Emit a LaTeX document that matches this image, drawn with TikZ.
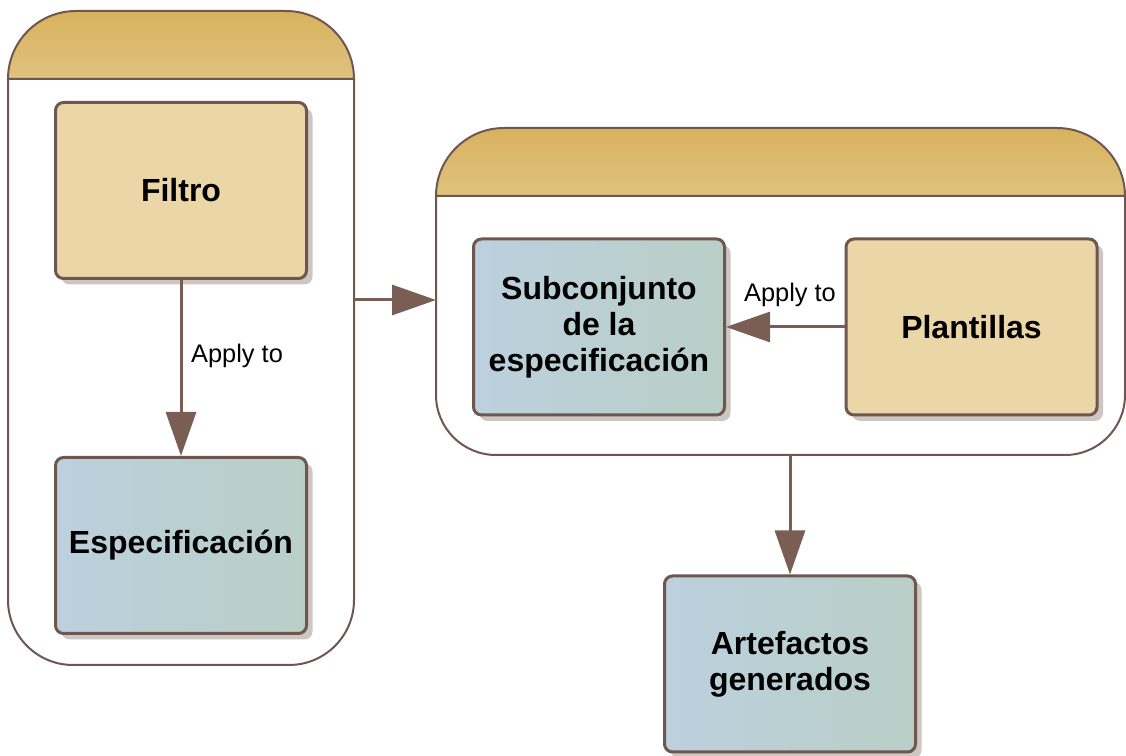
\documentclass[tikz,border=0pt]{standalone}
\usepackage{fontspec}
\setmainfont{Liberation Sans}
\usepackage{tikz}
\usetikzlibrary{arrows.meta, shadows}

\definecolor{marron}{RGB}{110,87,78}
\definecolor{flecha}{RGB}{122,94,84}
\definecolor{cabeza1}{RGB}{216,178,94}
\definecolor{cabeza2}{RGB}{224,194,126}
\definecolor{arena}{RGB}{235,214,167}
\definecolor{azul1}{RGB}{188,208,222}
\definecolor{verde1}{RGB}{185,207,198}
\definecolor{sombra}{RGB}{205,198,195}

\begin{document}
\begin{tikzpicture}[x=0.5pt, y=0.5pt,
    caja/.style={draw=marron, line width=1.5pt, rounded corners=4pt,
        minimum width=125.5pt, minimum height=88pt, align=center,
        font=\fontsize{16}{18}\selectfont\bfseries,
        drop shadow={shadow xshift=3pt, shadow yshift=-3pt, fill=sombra, opacity=1}},
    tan/.style={caja, fill=arena},
    azul/.style={caja, left color=azul1, right color=verde1},
    contenedor/.style={draw=marron, line width=1pt},
    cabecera/.style={contenedor, top color=cabeza1, bottom color=cabeza2},
    conector/.style={draw=flecha, line width=1.5pt,
        -{Triangle[length=22pt, width=15pt]}},
    etiqueta/.style={font=\fontsize{12.7}{15}\selectfont, text=black}]
    \useasboundingbox (0,0) rectangle (1126,756);
    \clip (0,0) rectangle (1126,756);
    % Contenedor izquierdo
    \draw[contenedor] (8,677) -- (8,156)
        arc[start angle=180, end angle=270, radius=65] -- (289,91)
        arc[start angle=270, end angle=360, radius=65] -- (354,677);
    \draw[cabecera] (8,677) arc[start angle=180, end angle=90, radius=68]
        -- (286,745) arc[start angle=90, end angle=0, radius=68] -- cycle;
    % Contenedor derecho
    \draw[contenedor] (436,560) -- (436,361)
        arc[start angle=180, end angle=270, radius=60] -- (1065,301)
        arc[start angle=270, end angle=360, radius=60] -- (1125,560);
    \draw[cabecera] (436,560) arc[start angle=180, end angle=90, radius=68]
        -- (1057,628) arc[start angle=90, end angle=0, radius=68] -- cycle;
    % Puntos de conexion en los contenedores
    \coordinate (izqsal) at (354,456);
    \coordinate (derent) at (436,456);
    \coordinate (dersal) at (790,301);
    % Cajas
    \node[tan] (filtro) at (181,565.5) {Filtro};
    \node[azul] (espec) at (181,210.5) {Especificación};
    \node[azul] (subconj) at (599,429) {Subconjunto\\de la\\especificación};
    \node[tan] (plantillas) at (971.5,429) {Plantillas};
    \node[azul] (artefactos) at (790,92) {Artefactos\\generados};
    % Conectores
    \draw[conector] (filtro) -- node[etiqueta, right=1pt, pos=0.43] {Apply to} (espec);
    \draw[conector] (izqsal) -- (derent);
    \draw[conector] (plantillas) -- node[etiqueta, above=6pt, pos=0.46] {Apply to} (subconj);
    \draw[conector] (dersal) -- (artefactos);
\end{tikzpicture}
\end{document}
